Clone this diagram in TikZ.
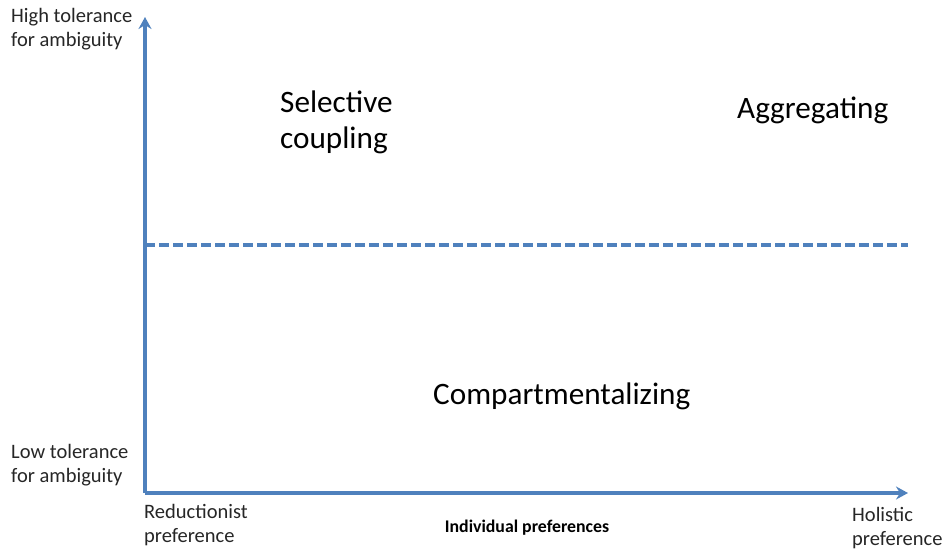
\documentclass[tikz,border=0pt]{standalone}
\usepackage{fontspec}
\setmainfont{Carlito}
\usetikzlibrary{arrows.meta}
\definecolor{axisblue}{HTML}{4F81BD}
\definecolor{txt}{HTML}{262626}
\begin{document}
\begin{tikzpicture}[x=1pt,y=-1pt,
  axis/.style={draw=axisblue,line width=3.2pt,-{Stealth[length=12pt,width=13pt,inset=4pt]}},
  midline/.style={draw=axisblue,line width=3.2pt,dash pattern=on 10pt off 4pt},
  small/.style={font=\fontsize{20.5}{24}\selectfont,text=txt,inner sep=0pt,align=left,anchor=base west},
  big/.style={font=\fontsize{31.2}{36}\selectfont,text=black,inner sep=0pt,align=left,anchor=base west},
  title/.style={font=\fontsize{17.8}{20}\selectfont\bfseries,text=black,inner sep=0pt,anchor=base}]
\useasboundingbox (0,0) rectangle (945,552);
\coordinate (o) at (145,493);
\coordinate (ytop) at (145,17);
\coordinate (xend) at (908,493);
\coordinate (ds) at (145,245);
\coordinate (de) at (908,245);
\draw[midline] (ds) -- (de);
\draw[axis] (o) -- (ytop);
\draw[axis] (o) -- (xend);
\node[small] (hi) at (11,46) {High tolerance\\for ambiguity};
\node[small] (lo) at (11,482) {Low tolerance\\for ambiguity};
\node[small] (red) at (144,542) {Reductionist\\preference};
\node[small] (hol) at (852,545) {Holistic\\preference};
\node[title] (ind) at (527,532) {Individual preferences};
\node[big] (sel) at (280,148) {Selective\\coupling};
\node[big] (agg) at (737,118) {Aggregating};
\node[big] (comp) at (433,404) {Compartmentalizing};
\end{tikzpicture}
\end{document}
